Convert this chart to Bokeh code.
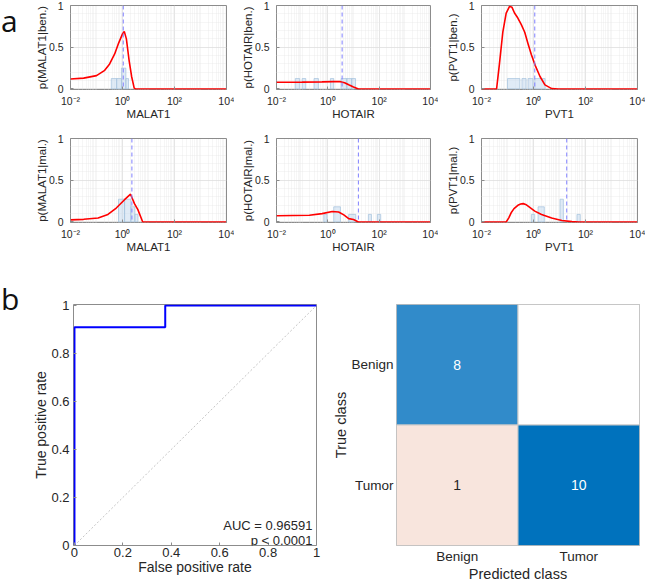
from bokeh.plotting import figure
from bokeh.layouts import column, row
from bokeh.models import Range1d, FixedTicker, Span, Label, FactorRange, ColumnDataSource, Div, Spacer
from bokeh.embed import file_html
from bokeh.resources import INLINE
from bokeh.core.properties import value

# ---------------------------------------------------------------- data
x_ticks = [0.01, 1, 100, 10000]
x_tick_labels = ["10\u207b\u00b2", "10\u2070", "10\u00b2", "10\u2074"]
y_ticks = [0, 0.5, 1]
y_tick_labels = ["0", "0.5", "1"]

# density curves: expression value, probability
malat1_ben_x = [0.01, 0.032, 0.1, 0.2, 0.32, 0.5, 0.71, 1.0, 1.17, 1.41, 1.78, 2.24, 2.82, 3.16, 10000]
malat1_ben_y = [0.12, 0.13, 0.16, 0.22, 0.30, 0.42, 0.55, 0.66, 0.69, 0.60, 0.35, 0.15, 0.01, 0.0, 0.0]
hotair_ben_x = [0.01, 0.1, 0.6, 1.6, 3.1, 4.5, 6.5, 10, 15.5, 10000]
hotair_ben_y = [0.08, 0.082, 0.085, 0.088, 0.088, 0.075, 0.05, 0.025, 0.0, 0.0]
pvt1_ben_x = [0.01, 0.038, 0.049, 0.066, 0.089, 0.12, 0.148, 0.186, 0.25, 0.34, 0.46, 0.62, 0.83,
              1.17, 1.78, 2.75, 5.0, 9.1, 10000]
pvt1_ben_y = [0.0, 0.0, 0.30, 0.68, 0.91, 0.99, 0.98, 0.91, 0.85, 0.77, 0.68, 0.54, 0.41,
              0.28, 0.15, 0.05, 0.005, 0.0, 0.0]
malat1_mal_x = [0.01, 0.032, 0.115, 0.275, 0.575, 1.2, 2.04, 2.88, 3.9, 6.0, 10000]
malat1_mal_y = [0.025, 0.032, 0.048, 0.09, 0.167, 0.267, 0.333, 0.22, 0.148, 0.0, 0.0]
hotair_mal_x = [0.01, 0.19, 0.6, 1.48, 2.63, 4.2, 6.5, 10, 15.5, 10000]
hotair_mal_y = [0.074, 0.08, 0.10, 0.125, 0.12, 0.085, 0.04, 0.03, 0.0, 0.0]
pvt1_mal_x = [0.01, 0.089, 0.112, 0.138, 0.178, 0.25, 0.32, 0.4, 0.5, 0.62, 1.12, 2.04, 5.0, 12.3, 30, 55, 10000]
pvt1_mal_y = [0.0, 0.0, 0.05, 0.11, 0.16, 0.20, 0.215, 0.22, 0.21, 0.19, 0.13, 0.09, 0.048, 0.018, 0.005, 0.0, 0.0]

# histogram bars: left edge, right edge, probability
malat1_ben_left = [0.37, 0.6, 0.91, 1.35]
malat1_ben_right = [0.6, 0.91, 1.35, 1.7]
malat1_ben_h = [0.125, 0.125, 0.25, 0.125]
hotair_ben_left = [0.054, 0.1, 0.29, 1.26, 3.3, 5.5, 8.5]
hotair_ben_right = [0.08, 0.138, 0.43, 1.7, 5.5, 8.5, 12.0]
hotair_ben_h = [0.125, 0.125, 0.125, 0.125, 0.125, 0.125, 0.125]
pvt1_ben_left = [0.1, 0.36, 0.62, 1.12]
pvt1_ben_right = [0.3, 0.52, 0.95, 2.8]
pvt1_ben_h = [0.125, 0.125, 0.125, 0.125]
malat1_mal_left = [0.7, 1.2, 2.1, 3.0]
malat1_mal_right = [1.2, 2.1, 3.0, 3.9]
malat1_mal_h = [0.273, 0.273, 0.182, 0.091]
hotair_mal_left = [0.7, 1.7, 6.5, 38, 85]
hotair_mal_right = [0.93, 3.1, 12.3, 50, 115]
hotair_mal_h = [0.091, 0.182, 0.091, 0.091, 0.091]
pvt1_mal_left = [0.83, 1.5, 10.5, 47]
pvt1_mal_right = [1.12, 2.6, 14.1, 63]
pvt1_mal_h = [0.091, 0.182, 0.273, 0.091]

# dashed reference lines (expression value)
thr_ben = [1.07, 3.6, 1.12]
thr_mal = [2.3, 15.5, 19.0]

genes = ["MALAT1", "HOTAIR", "PVT1"]

# ROC curve
roc_fpr = [0, 0, 0.375, 0.375, 1]
roc_tpr = [0, 0.909, 0.909, 1, 1]
auc_text = "AUC = 0.96591"
p_text = "p < 0.0001"
roc_ticks = [0, 0.2, 0.4, 0.6, 0.8, 1]
roc_tick_labels = ["0", "0.2", "0.4", "0.6", "0.8", "1"]

# confusion matrix
cm_classes = ["Benign", "Tumor"]
cm_true = ["Benign", "Benign", "Tumor", "Tumor"]
cm_pred = ["Benign", "Tumor", "Benign", "Tumor"]
cm_counts = [8, 0, 1, 10]

# ---------------------------------------------------------------- style
FONT = "Liberation Sans"
TXT = "#262626"
BOX = "#8c8c8c"
cm_colors = ["#318BCA", "#FFFFFF", "#F8E5DD", "#0072BD"]

x_minor = [m * 10.0 ** k for k in range(-2, 4) for m in range(2, 10)] + [0.1, 10, 1000]
y_minor = [0.1, 0.2, 0.3, 0.4, 0.6, 0.7, 0.8, 0.9]

ROW1_H, ROW2_H, ROW3_H = 122, 133, 329


def style_axes(p, tick_size, label_size, tick_standoff=3, label_standoff=0):
    for ax in (p.xaxis, p.yaxis):
        ax.axis_line_color = None
        ax.major_tick_in = 3
        ax.major_tick_out = 0
        ax.major_tick_line_color = BOX
        ax.minor_tick_line_color = None
        ax.major_label_text_font = FONT
        ax.major_label_text_font_size = tick_size
        ax.major_label_text_color = TXT
        ax.axis_label_text_font = FONT
        ax.axis_label_text_font_size = label_size
        ax.axis_label_text_font_style = "normal"
        ax.axis_label_text_color = TXT
        ax.major_label_standoff = tick_standoff
        ax.axis_label_standoff = label_standoff


def density_panel(gene, cls, cx, cy, bl, br, bh, thr, w, h, mleft, mright, mtop):
    p = figure(width=w, height=h, x_axis_type="log",
               x_range=Range1d(0.01, 10000), y_range=Range1d(-0.006, 1.0),
               output_backend="svg", toolbar_location=None,
               min_border_left=mleft, min_border_right=mright,
               min_border_top=mtop, min_border_bottom=31,
               background_fill_color="white", border_fill_color="white",
               outline_line_color=BOX, outline_line_width=1)
    p.quad(left=bl, right=br, bottom=0, top=bh, fill_color="#c6dbef", fill_alpha=0.55,
           line_color="#a3c2dd", line_width=0.7)
    p.line(cx, cy, line_color="#ff0000", line_width=1.6)
    p.add_layout(Span(location=thr, dimension="height", line_color="#8080ff",
                      line_dash="4 3", line_width=1))
    p.xaxis.ticker = FixedTicker(ticks=x_ticks, minor_ticks=x_minor)
    p.xaxis.major_label_overrides = {t: s for t, s in zip(x_ticks, x_tick_labels)}
    p.yaxis.ticker = FixedTicker(ticks=y_ticks, minor_ticks=y_minor)
    p.yaxis.major_label_overrides = {t: s for t, s in zip(y_ticks, y_tick_labels)}
    style_axes(p, "10.5px", "11.5px", 1, -2)
    p.yaxis.major_label_standoff = 3
    p.xaxis.axis_label = gene
    p.yaxis.axis_label = "p(%s|%s)" % (gene, cls)
    for g in (p.xgrid, p.ygrid):
        g.grid_line_color = "#dedede"
        g.grid_line_width = 0.8
        g.minor_grid_line_color = "#e9e9e9"
        g.minor_grid_line_width = 0.8
        g.minor_grid_line_dash = "1 1"
    return p


def panel_letter(letter, h, top_pad):
    return Div(text='<div style="margin-top:%dpx;padding-left:1px">%s</div>' % (top_pad, letter),
               width=20, height=h, margin=(0, 0, 0, 0),
               styles={"font-family": "Open Sans", "font-size": "30px",
                       "line-height": "normal", "color": "#111111"})


ben_data = [
    (malat1_ben_x, malat1_ben_y, malat1_ben_left, malat1_ben_right, malat1_ben_h),
    (hotair_ben_x, hotair_ben_y, hotair_ben_left, hotair_ben_right, hotair_ben_h),
    (pvt1_ben_x, pvt1_ben_y, pvt1_ben_left, pvt1_ben_right, pvt1_ben_h),
]
mal_data = [
    (malat1_mal_x, malat1_mal_y, malat1_mal_left, malat1_mal_right, malat1_mal_h),
    (hotair_mal_x, hotair_mal_y, hotair_mal_left, hotair_mal_right, hotair_mal_h),
    (pvt1_mal_x, pvt1_mal_y, pvt1_mal_left, pvt1_mal_right, pvt1_mal_h),
]
col_geom = [(214, 50, 8), (204, 42, 8), (207, 43, 8)]

row1 = [panel_letter("a", ROW1_H, 0)]
row2 = [Spacer(width=20, height=ROW2_H, margin=(0, 0, 0, 0))]
for i, gene in enumerate(genes):
    w, ml, mr = col_geom[i]
    cx, cy, bl, br, bh = ben_data[i]
    row1.append(density_panel(gene, "ben.", cx, cy, bl, br, bh, thr_ben[i], w, ROW1_H, ml, mr, 5))
    cx, cy, bl, br, bh = mal_data[i]
    row2.append(density_panel(gene, "mal.", cx, cy, bl, br, bh, thr_mal[i], w, ROW2_H, ml, mr, 16))

# ---------------------------------------------------------------- ROC
roc = figure(width=306, height=ROW3_H, x_range=Range1d(-0.004, 1.0), y_range=Range1d(0, 1.004),
             output_backend="svg", toolbar_location=None,
             min_border_left=53, min_border_right=10, min_border_top=49, min_border_bottom=39,
             background_fill_color="white", border_fill_color="white",
             outline_line_color=BOX, outline_line_width=1)
roc.line([0, 1], [0, 1], line_color="#c4c4c4", line_width=1, line_dash="2 2")
roc.line(roc_fpr, roc_tpr, line_color="#0000ff", line_width=2)
roc.xaxis.ticker = FixedTicker(ticks=roc_ticks)
roc.yaxis.ticker = FixedTicker(ticks=roc_ticks)
roc.xaxis.major_label_overrides = {t: s for t, s in zip(roc_ticks, roc_tick_labels)}
roc.yaxis.major_label_overrides = {t: s for t, s in zip(roc_ticks, roc_tick_labels)}
style_axes(roc, "13px", "14px", 2, -1)
roc.yaxis.major_label_standoff = 4
roc.xaxis.axis_label = "False positive rate"
roc.yaxis.axis_label = "True positive rate"
roc.grid.visible = False
roc.add_layout(Label(x=1, y=0, x_offset=-4, y_offset=20, text=auc_text, text_align="right",
                     text_baseline="alphabetic", text_font=FONT, text_font_size="13px",
                     text_color=TXT))
roc.add_layout(Label(x=1, y=0, x_offset=-4, y_offset=5, text=p_text, text_align="right",
                     text_baseline="alphabetic", text_font=FONT, text_font_size="13px",
                     text_color=TXT))

# ---------------------------------------------------------------- confusion matrix
cm_src = ColumnDataSource(dict(
    true=cm_true, pred=cm_pred, count=cm_counts, color=cm_colors,
    label=[str(c) if c > 0 else "" for c in cm_counts],
    tcolor=["white" if c >= 5 else TXT for c in cm_counts],
))
cm = figure(width=319, height=ROW3_H, x_range=FactorRange(*cm_classes),
            y_range=FactorRange(*cm_classes[::-1]),
            output_backend="svg", toolbar_location=None,
            min_border_left=70, min_border_right=6, min_border_top=49, min_border_bottom=39,
            background_fill_color="white", border_fill_color="white",
            outline_line_color="#b0b0b0", outline_line_width=1)
cm.rect(x="pred", y="true", width=1, height=1, fill_color="color", line_color="#c8c8c8",
        line_width=1, source=cm_src)
cm.text(x="pred", y="true", text="label", text_color="tcolor", text_align="center",
        text_baseline="middle", text_font=value(FONT), text_font_size="14px", source=cm_src)
style_axes(cm, "13.5px", "14.5px", 3, -1)
cm.xaxis.major_tick_line_color = None
cm.yaxis.major_tick_line_color = None
cm.xaxis.axis_label = "Predicted class"
cm.yaxis.axis_label = "True class"
cm.grid.visible = False

layout = column(row(*row1), row(*row2), row(panel_letter("b", ROW3_H, 23), roc, cm))
open("out.html", "w").write(file_html(layout, INLINE))
